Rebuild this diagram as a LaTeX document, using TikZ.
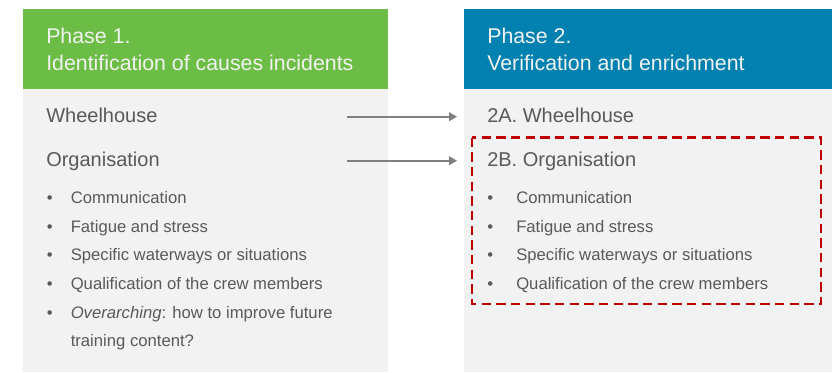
\documentclass[tikz,border=0pt]{standalone}
\usepackage{fontspec}
\setmainfont{Liberation Sans}
\usetikzlibrary{arrows.meta}
\definecolor{phaseone}{HTML}{6CBD45}
\definecolor{phasetwo}{HTML}{0081AF}
\definecolor{panelgray}{HTML}{F2F2F2}
\definecolor{textgray}{HTML}{595959}
\definecolor{dashred}{HTML}{C00000}
\definecolor{arrowgray}{HTML}{7F7F7F}
\begin{document}
\begin{tikzpicture}[x=0.75pt,y=-0.75pt,
    head/.style={anchor=base west,inner sep=0pt,text=panelgray,font=\fontsize{16}{19}\selectfont},
    topic/.style={anchor=base west,inner sep=0pt,text=textgray,font=\fontsize{15}{18}\selectfont},
    item/.style={anchor=base west,inner sep=0pt,text=textgray,font=\fontsize{12.5}{15}\selectfont},
    link/.style={draw=arrowgray,line width=1.4pt,-{Triangle[length=6pt,width=6.5pt]}}]
    \useasboundingbox (0,0) rectangle (832,372);
    % panels
    \fill[panelgray] (23,89) rectangle (388,372);
    \fill[phaseone] (23,9) rectangle (388,89);
    \fill[panelgray] (464,89) rectangle (832,372);
    \fill[phasetwo] (464,9) rectangle (832,89);
    % headers
    \node[head] (p1a) at (46,43) {Phase 1.};
    \node[head] (p1b) at (46,70) {Identification of causes incidents};
    \node[head] (p2a) at (487,43) {Phase 2.};
    \node[head] (p2b) at (487,70) {Verification and enrichment};
    % topics
    \node[topic] (wh1) at (46,122) {Wheelhouse};
    \node[topic] (org1) at (46,166.5) {Organisation};
    \node[topic] (wh2) at (487,122) {2A. Wheelhouse};
    \node[topic] (org2) at (487,166.5) {2B. Organisation};
    % bullet lists
    \foreach \t [count=\i] in {Communication,Fatigue and stress,Specific waterways or situations,Qualification of the crew members}{
      \node[item] (l\i) at (70.5,174.6+28.7*\i) {\t};
      \node[item] (ld\i) at (46.5,174.6+28.7*\i) {\textbullet};
      \node[item] (r\i) at (516,174.6+28.7*\i) {\t};
      \node[item] (rd\i) at (487,174.6+28.7*\i) {\textbullet};
    }
    \node[item] (l5) at (70.5,318.1) {\textit{Overarching}: how to improve future};
    \node[item] (ld5) at (46.5,318.1) {\textbullet};
    \node[item] (l6) at (70.5,346) {training content?};
    % arrows
    \coordinate (a1) at (347,116.7);
    \coordinate (b1) at (457,116.7);
    \coordinate (a2) at (347,160.7);
    \coordinate (b2) at (457,160.7);
    \draw[link] (a1) -- (b1);
    \draw[link] (a2) -- (b2);
    % selection
    \draw[dashred,line width=1.7pt,dash pattern=on 7pt off 4pt] (472,137.5) rectangle (821,304);
\end{tikzpicture}
\end{document}
